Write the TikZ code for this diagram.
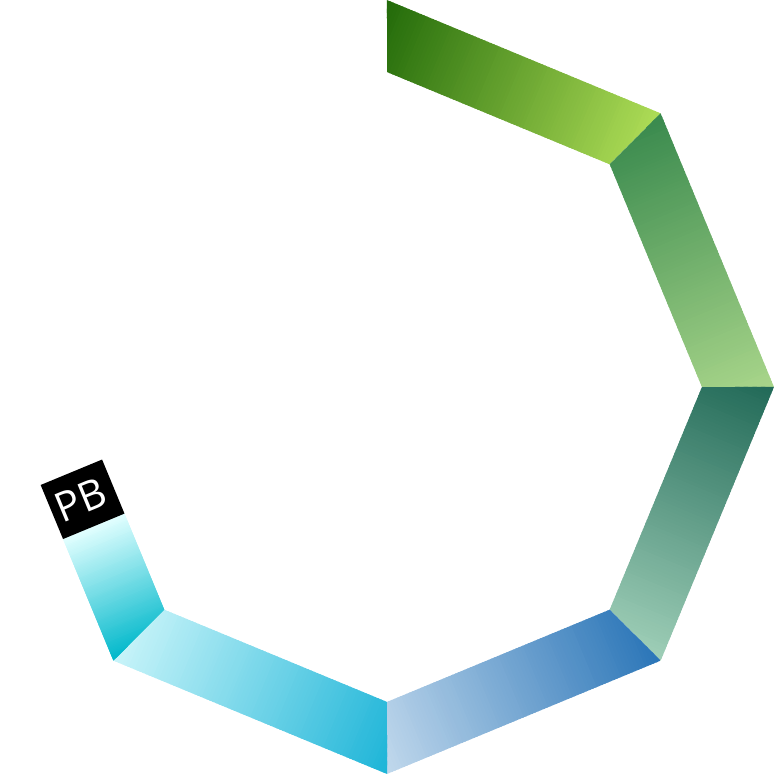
\documentclass[tikz,border=0pt]{standalone}
\usepackage{fontspec}
\newfontfamily\pbfont{Open Sans}
\definecolor{sAa}{HTML}{236B0A}\definecolor{sAb}{HTML}{ADDC56}
\definecolor{sBa}{HTML}{3A8A4E}\definecolor{sBb}{HTML}{A8D58A}
\definecolor{sCa}{HTML}{226A58}\definecolor{sCb}{HTML}{9ECEB7}
\definecolor{sDa}{HTML}{2C76B8}\definecolor{sDb}{HTML}{C0D8EC}
\definecolor{sEa}{HTML}{1EB5D8}\definecolor{sEb}{HTML}{C8F4F9}
\definecolor{sFa}{HTML}{00B8CB}\definecolor{sFb}{HTML}{E2FFFF}
% #1 rotation, #2 outer end x, #3 inner end x, #4 start colour, #5 end colour
\newcommand\bandseg[5]{%
  \begin{scope}[shift={(387,388)},rotate=#1]
    \clip (-148.1,357.5) -- (#2,357.5) -- (#3,291) -- (-120.5,291) -- cycle;
    \pgfmathsetmacro\segw{(#2+148.1)/90}
    \foreach \i in {0,...,89}{
      \pgfmathtruncatemacro\segp{round(\i*100/89)}
      \pgfmathsetmacro\segx{-148.1+\i*\segw}
      \fill[#5!\segp!#4] (\segx,280) rectangle ({\segx+\segw+1.5},370);
    }
  \end{scope}}
\begin{document}
\begin{tikzpicture}[x=1pt,y=1pt,
  pblabel/.style={text=white,font=\pbfont\fontsize{41}{41}\selectfont,inner sep=0pt}]
\useasboundingbox (0,0) rectangle (774,775);
\bandseg{-22.5}{148.1}{120.5}{sAa}{sAb}
\bandseg{-67.5}{148.1}{120.5}{sBa}{sBb}
\bandseg{-112.5}{148.1}{120.5}{sCa}{sCb}
\bandseg{-157.5}{148.1}{120.5}{sDa}{sDb}
\bandseg{-202.5}{148.1}{120.5}{sEa}{sEb}
\bandseg{-247.5}{-16}{-16}{sFa}{sFb}
\begin{scope}[shift={(387,388)},rotate=-247.5]
  \fill[black] (-16.5,357.5) rectangle (42,291);
  \node[pblabel,rotate=22.5] (pb) at (13,326) {PB};
\end{scope}
\end{tikzpicture}
\end{document}
